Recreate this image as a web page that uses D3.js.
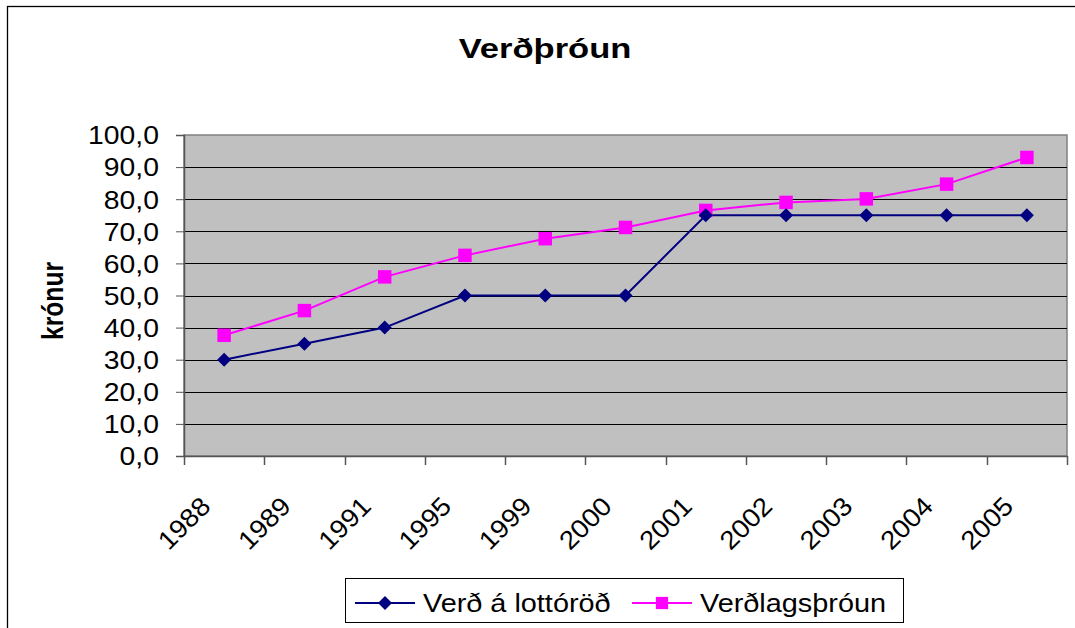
<!DOCTYPE html>
<html><head><meta charset="utf-8">
<script src="https://cdn.jsdelivr.net/npm/d3@7"></script>
<style>body{margin:0;background:#fff}svg{display:block;font-family:Arial,"Liberation Sans",sans-serif}</style>
</head><body>
<svg id="c" width="1075" height="628"></svg>
<script>
const categories = ["1988","1989","1991","1995","1999","2000","2001","2002","2003","2004","2005"];
const lottoPrice = [30,35,40,50,50,50,75,75,75,75,75];
const priceLevel = [37.6,45.3,55.8,62.5,67.7,71.2,76.5,79.0,80.1,84.7,93.0];
const yTicks = [0,10,20,30,40,50,60,70,80,90,100];
const seriesNames = ["Verð á lottóröð","Verðlagsþróun"];
const titleText = "Verðþróun";
const yTitle = "krónur";

const svg = d3.select("#c");
const L=184, R=1067, T=135, B=456;
svg.append("rect").attr("x",7.5).attr("y",6.5).attr("width",1100).attr("height",700).attr("fill","#fff").attr("stroke","#000").attr("stroke-width",1.3);

const x = d3.scaleBand().domain(categories).range([L,R]);
const y = d3.scaleLinear().domain([0,100]).range([B,T]);

svg.append("rect").attr("x",L).attr("y",T).attr("width",R-L).attr("height",B-T).attr("fill","#C0C0C0").attr("stroke","#808080").attr("stroke-width",1.5);

// gridlines
svg.append("g").selectAll("line").data(yTicks.filter(d=>d>0&&d<100)).join("line")
 .attr("x1",L).attr("x2",R).attr("y1",d=>Math.round(y(d))+0.5).attr("y2",d=>Math.round(y(d))+0.5)
 .attr("stroke","#000").attr("stroke-width",1);

// y axis
const ya = svg.append("g").attr("transform",`translate(${L},0)`)
 .call(d3.axisLeft(y).tickValues(yTicks).tickSize(8).tickFormat(""));
ya.select(".domain").attr("stroke","#555").attr("stroke-width",1.5);
ya.selectAll(".tick line").attr("stroke","#555");
const fmt = d=>d3.format(".1f")(d).replace(".",",");
svg.append("g").selectAll("text").data(yTicks).join("text")
 .attr("transform",d=>`translate(159,${y(d)}) scale(1.09,1)`)
 .attr("text-anchor","end").attr("dy","0.36em").attr("font-size",26).text(fmt);

// x axis
const xa = svg.append("g").attr("transform",`translate(0,${B})`)
 .call(d3.axisBottom(x).tickSize(0).tickFormat(""));
xa.select(".domain").attr("stroke","#555").attr("stroke-width",1.5);
const bounds = [...categories.map(c=>x(c)), R];
svg.append("g").selectAll("line").data(bounds).join("line")
 .attr("x1",d=>Math.round(d)+0.5).attr("x2",d=>Math.round(d)+0.5).attr("y1",B).attr("y2",B+9)
 .attr("stroke","#555").attr("stroke-width",1.5);
svg.append("g").selectAll("text").data(categories).join("text")
 .attr("transform",d=>`translate(${x(d)+x.bandwidth()/2-25},${B+39}) rotate(-45) scale(1.06,1)`)
 .attr("text-anchor","end").attr("font-size",26).attr("dy","0.7em").text(d=>d);

const cx = d=>x(d)+x.bandwidth()/2;
const line = d3.line().x((d,i)=>cx(categories[i])).y(d=>y(d));

svg.append("path").datum(priceLevel).attr("d",line).attr("fill","none").attr("stroke","#FF00FF").attr("stroke-width",2);
svg.append("path").datum(lottoPrice).attr("d",line).attr("fill","none").attr("stroke","#000080").attr("stroke-width",2);

const sq = d3.symbol().type(d3.symbolSquare).size(182);
const dm = () => `M0,-7L7,0L0,7L-7,0Z`;
svg.append("g").selectAll("path").data(priceLevel).join("path")
 .attr("transform",(d,i)=>`translate(${cx(categories[i])},${y(d)})`).attr("d",sq).attr("fill","#FF00FF");
svg.append("g").selectAll("path").data(lottoPrice).join("path")
 .attr("transform",(d,i)=>`translate(${cx(categories[i])},${y(d)})`).attr("d",dm).attr("fill","#000080");

// title
svg.append("text").attr("transform","translate(545,58) scale(1.28,1)").attr("text-anchor","middle").attr("font-size",27).attr("font-weight","bold").text(titleText);
svg.append("text").attr("transform","translate(63,301) rotate(-90) scale(0.85,1)").attr("text-anchor","middle").attr("font-size",29).attr("font-weight","bold").text(yTitle);

// legend
const lg = svg.append("g");
lg.append("rect").attr("x",345.5).attr("y",578.5).attr("width",558).attr("height",44).attr("fill","#fff").attr("stroke","#000").attr("stroke-width",1);
const lc = [{name:seriesNames[0],color:"#000080",x0:355,tx:423,sym:"d"},{name:seriesNames[1],color:"#FF00FF",x0:632,tx:700,sym:"s"}];
lc.forEach(s=>{
  lg.append("line").attr("x1",s.x0).attr("x2",s.x0+60).attr("y1",603).attr("y2",603).attr("stroke",s.color).attr("stroke-width",2);
  lg.append("path").attr("transform",`translate(${s.x0+30},603)`).attr("d",s.sym==="d"?dm():d3.symbol().type(d3.symbolSquare).size(150)()).attr("fill",s.color);
  lg.append("text").attr("transform",`translate(${s.tx},603) scale(1.11,1)`).attr("dy","0.36em").attr("font-size",26).text(s.name);
});
</script>
</body></html>
